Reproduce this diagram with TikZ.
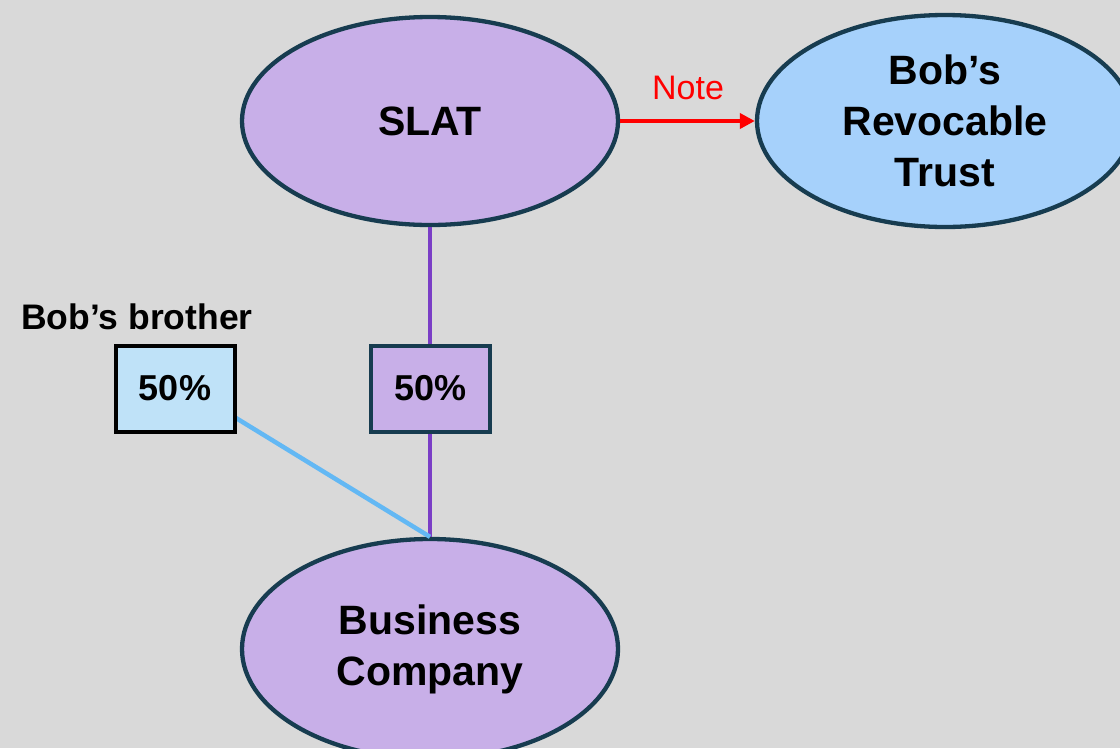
\documentclass[tikz,border=0pt]{standalone}
\usepackage{fontspec}
\setmainfont{Liberation Sans}
\usetikzlibrary{shapes.geometric,arrows.meta}
\definecolor{bgGray}{HTML}{D9D9D9}
\definecolor{lilac}{HTML}{C8AFE8}
\definecolor{skyFill}{HTML}{A6D1FB}
\definecolor{paleBlue}{HTML}{BFE2F8}
\definecolor{edgeNavy}{HTML}{173C50}
\definecolor{ownPurple}{HTML}{7A3EC6}
\definecolor{ownBlue}{HTML}{63B8F4}
\definecolor{noteRed}{HTML}{FF0000}
\tikzset{
  entity/.style={ellipse, draw=edgeNavy, line width=4.3pt, minimum width=376pt,
    inner sep=0pt, align=center, font=\fontsize{41}{51}\selectfont\bfseries},
  sharebox/.style={rectangle, line width=4pt, minimum width=119pt, minimum height=86pt,
    inner sep=0pt, font=\fontsize{36}{40}\selectfont\bfseries},
  ownline/.style={line width=4.5pt},
}
\begin{document}
\begin{tikzpicture}[x=1pt,y=-1pt]
\useasboundingbox (0,0) rectangle (1120,748);
\fill[bgGray] (0,0) rectangle (1120,748);
\clip (0,0) rectangle (1120,748);

% entities
\node[entity, fill=lilac, minimum height=208pt] (slat) at (430,121) {SLAT};
\node[entity, fill=skyFill, minimum height=212pt] (trust) at (945,121) {Bob’s\\Revocable\\Trust};
\node[entity, fill=lilac, minimum height=220pt] (biz) at (430,649) {Business\\Company};

% ownership lines (behind the share boxes)
\draw[ownline, ownPurple] (slat.south) -- (biz.north);
\coordinate (brokink) at (236,418);
\draw[ownline, ownBlue] (brokink) -- (biz.north);

% share boxes
\node[sharebox, draw=edgeNavy, fill=lilac] (slatshare) at (430.5,388.5) {50\%};
\node[sharebox, draw=black, fill=paleBlue] (broshare) at (175,388.5) {50\%};
\node[font=\fontsize{35.5}{40}\selectfont\bfseries] (brolabel) at (137,317) {Bob’s brother};

% note from SLAT to the revocable trust
\draw[line width=4.5pt, noteRed, -{Triangle[length=15pt,width=15pt]}] (slat.east) -- (trust.west);
\node[text=noteRed, font=\fontsize{34}{40}\selectfont] (note) at (688,88) {Note};
\end{tikzpicture}
\end{document}
